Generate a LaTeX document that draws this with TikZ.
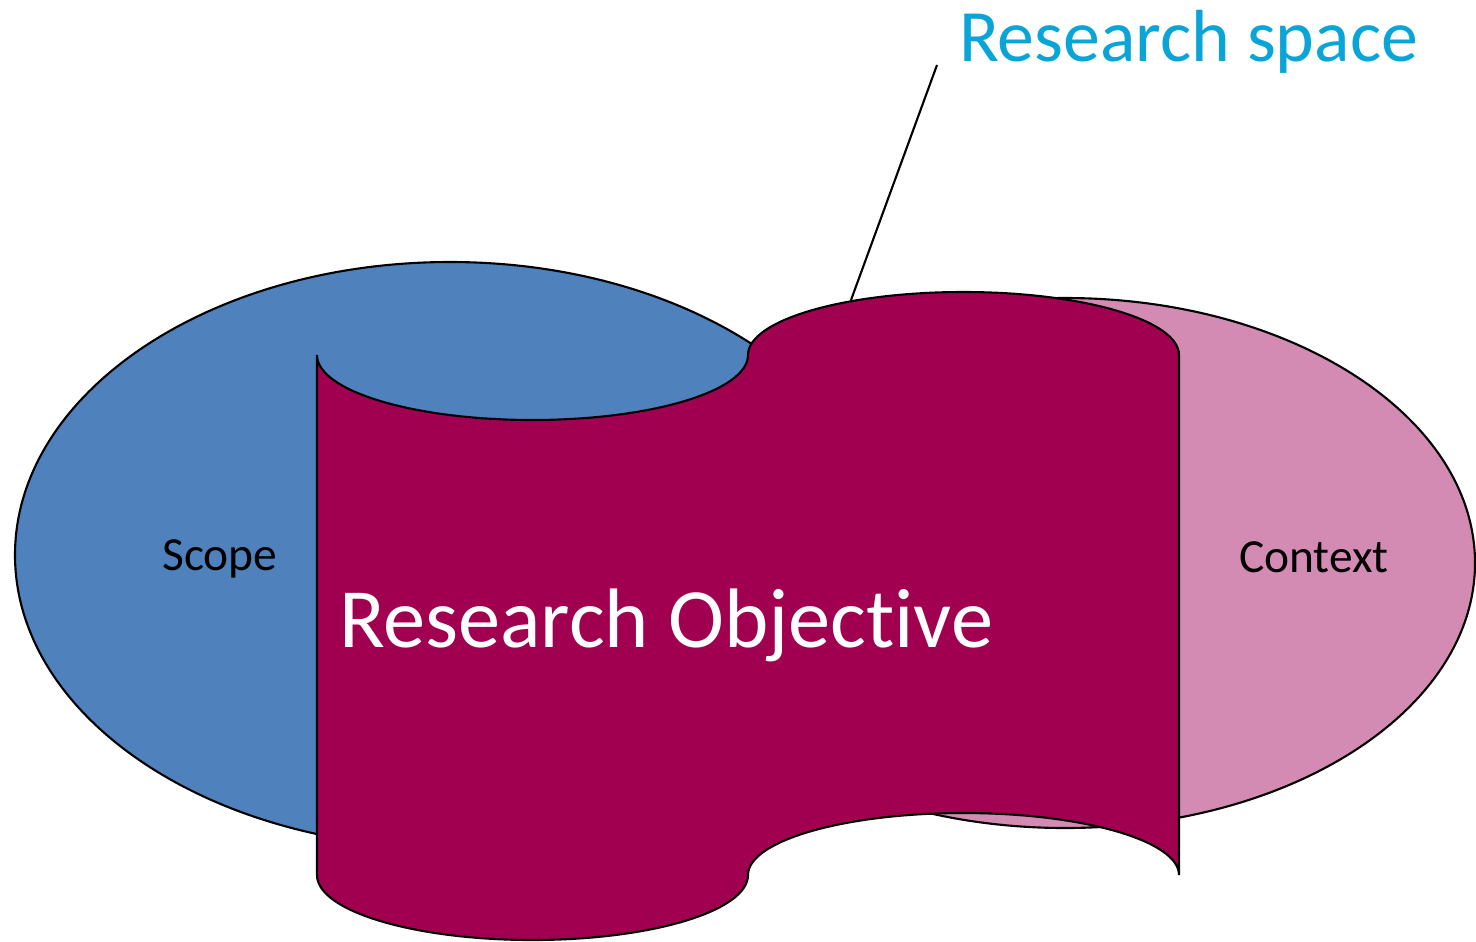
\documentclass[tikz,border=0pt]{standalone}
\usepackage{fontspec}
\setmainfont{Carlito}[Ligatures=NoCommon]
\usepackage[]{xcolor}
\usepackage{tikz}

\definecolor{scopeblue}{HTML}{4F81BD}
\definecolor{contextpink}{HTML}{D48BB3}
\definecolor{objectivered}{HTML}{A10050}
\definecolor{spacecyan}{HTML}{0AA5D7}

\begin{document}
\begin{tikzpicture}[x=.01cm,y=.01cm,line width=.6pt]
    \useasboundingbox     (0,0) rectangle (1476,941);
    \filldraw[fill=scopeblue]     (450,386) ellipse (435 and 293);
    \filldraw[fill=contextpink]     (1065,378) ellipse (410 and 265);
    \filldraw[fill=objectivered]     (317,586) -- (317,66)
        arc[start angle=180,end angle=360,x radius=215.5,y radius=65]
        arc[start angle=180,end angle=0,x radius=215.5,y radius=62]
        -- (1179,586)
        arc[start angle=0,end angle=180,x radius=215.5,y radius=63]
        arc[start angle=360,end angle=180,x radius=215.5,y radius=65]
        -- cycle;
    \node[anchor=base west,inner sep=0,text=spacecyan,font=\fontsize{21}{25}\selectfont] (space) at (958,880) {Research space};
    \coordinate (tip) at (851,641);
    \draw     ([shift={(-21,-4)}]space.base west) -- (tip);
    \node[anchor=base west,inner sep=0,text=white,font=\fontsize{24}{29}\selectfont] (objective) at (338,294) {Research Objective};
    \node[anchor=base,inner sep=0,font=\fontsize{13.5}{16}\selectfont] (scope) at (220,371) {Scope};
    \node[anchor=base,inner sep=0,font=\fontsize{13.5}{16}\selectfont] (context) at (1314,369) {Context};
\end{tikzpicture}
\end{document}
